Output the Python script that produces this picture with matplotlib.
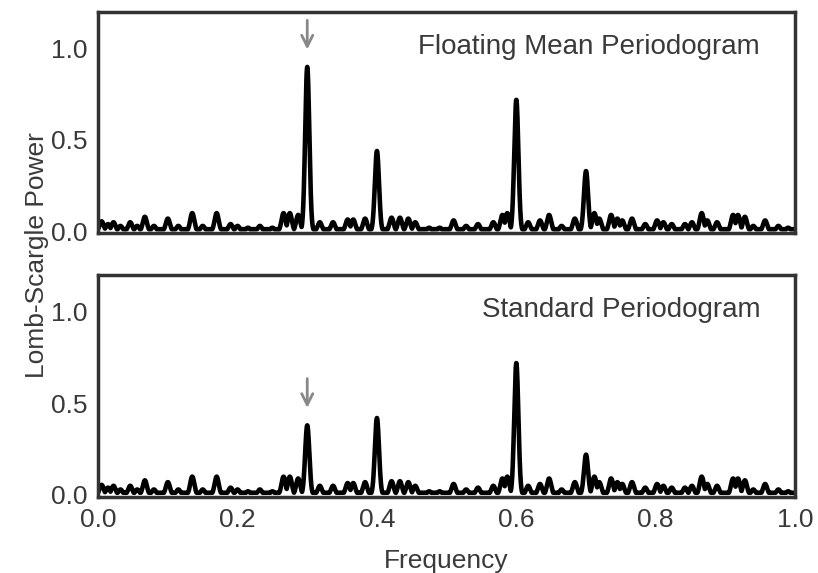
import matplotlib
matplotlib.use("Agg")
import matplotlib.pyplot as plt
import numpy as np

plt.rcParams['font.family'] = ['Liberation Sans', 'DejaVu Sans']

# main peaks (frequency, power)
main_freq = [0.3, 0.4, 0.6, 0.7]
top_main_power = [0.90, 0.44, 0.72, 0.33]
bottom_main_power = [0.38, 0.42, 0.72, 0.22]

# small noise peaks
noise_freq = [0.005, 0.014, 0.022, 0.032, 0.046, 0.056, 0.067, 0.08, 0.10, 0.115,
              0.135, 0.15, 0.17, 0.19, 0.20, 0.215, 0.232, 0.25,
              0.266, 0.275, 0.287, 0.318, 0.337, 0.358, 0.366, 0.383, 0.421, 0.433,
              0.445, 0.455, 0.475, 0.49, 0.51, 0.528, 0.545, 0.567, 0.58, 0.587,
              0.617, 0.634, 0.647, 0.665, 0.684, 0.712, 0.719, 0.736, 0.745, 0.752,
              0.766, 0.785, 0.802, 0.811, 0.823, 0.842, 0.852, 0.866, 0.874, 0.888,
              0.911, 0.918, 0.928, 0.94, 0.957, 0.976, 0.99]
noise_power = [0.055, 0.04, 0.05, 0.03, 0.05, 0.03, 0.08, 0.03, 0.07, 0.03,
               0.10, 0.03, 0.10, 0.04, 0.03, 0.02, 0.03, 0.02,
               0.10, 0.10, 0.09, 0.05, 0.05, 0.065, 0.065, 0.07, 0.075, 0.075,
               0.07, 0.05, 0.02, 0.02, 0.06, 0.03, 0.04, 0.05, 0.09, 0.10,
               0.05, 0.06, 0.09, 0.03, 0.07, 0.10, 0.07, 0.09, 0.07, 0.06,
               0.07, 0.04, 0.06, 0.05, 0.04, 0.04, 0.05, 0.10, 0.06, 0.05,
               0.09, 0.09, 0.08, 0.03, 0.06, 0.03, 0.02]

titles = ["Floating Mean Periodogram", "Standard Periodogram"]


def curve(freqs, powers, f):
    y = np.full_like(f, 0.012)
    for fc, p in zip(freqs, powers):
        y = np.maximum(y, p * np.exp(-((f - fc) / 0.0042) ** 2))
    return y


f = np.linspace(0, 1, 4000)

fig = plt.figure(figsize=(8.18, 5.73), dpi=100)
ax1 = fig.add_axes([0.12, 0.593, 0.852, 0.386])
ax2 = fig.add_axes([0.12, 0.133, 0.852, 0.387])

for ax, mp, title in zip([ax1, ax2], [top_main_power, bottom_main_power], titles):
    y = curve(noise_freq + main_freq, noise_power + mp, f)
    ax.plot(f, y, color="black", lw=3.3)
    ax.set_xlim(0, 1)
    ax.set_ylim(-0.01, 1.2)
    ax.set_yticks([0.0, 0.5, 1.0])
    ax.set_xticks([0.0, 0.2, 0.4, 0.6, 0.8, 1.0])
    ax.tick_params(length=0, labelsize=19, labelcolor="#3a3a3a", pad=8)
    for s in ax.spines.values():
        s.set_color("#333333")
        s.set_linewidth(2.5)
    ax.text(0.95, 1.01, title, ha="right", va="center", fontsize=20, color="#3a3a3a")
    peak = mp[0]
    ax.annotate("", xy=(0.3, peak + 0.08), xytext=(0.3, peak + 0.27),
                arrowprops=dict(arrowstyle="->", color="#888888", lw=2,
                                mutation_scale=20))

ax1.set_xticklabels([])
ax2.set_xticklabels(["0.0", "0.2", "0.4", "0.6", "0.8", "1.0"])
ax2.set_xlabel("Frequency", fontsize=19, color="#3a3a3a", labelpad=12)
fig.text(0.045, 0.555, "Lomb-Scargle Power", rotation=90, ha="center", va="center",
         fontsize=19, color="#3a3a3a")

plt.savefig("out.png", dpi=100)
